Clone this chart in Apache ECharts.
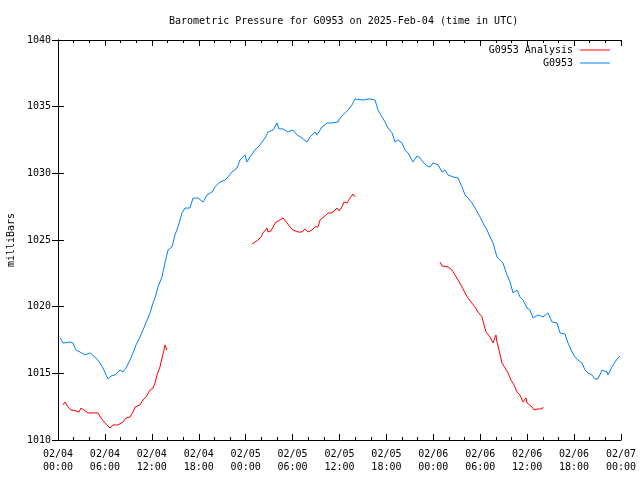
<!DOCTYPE html>
<html>
<head>
<meta charset="utf-8">
<script src="https://cdn.jsdelivr.net/npm/echarts@6/dist/echarts.min.js"></script>
<style>html,body{margin:0;padding:0;background:#fff}#c{width:640px;height:480px}</style>
</head>
<body>
<div id="c"></div>
<script>
// Hours since 2025-02-04 00:00 UTC
var xTickLabels = ['02/04\n00:00','02/04\n06:00','02/04\n12:00','02/04\n18:00','02/05\n00:00','02/05\n06:00','02/05\n12:00','02/05\n18:00','02/06\n00:00','02/06\n06:00','02/06\n12:00','02/06\n18:00','02/07\n00:00'];

var obsHours = [0.26,0.64,1.53,1.92,2.30,2.81,3.45,4.09,4.86,5.37,5.76,6.14,6.39,6.78,7.29,7.93,8.31,8.70,9.21,9.59,9.98,10.49,10.87,11.25,11.77,12.15,12.41,12.79,13.30,13.68,14.07,14.58,14.96,15.35,15.86,16.24,16.88,17.27,17.90,18.54,19.06,19.70,20.08,20.72,21.36,21.74,22.25,22.89,23.28,23.92,24.17,24.56,25.19,25.83,26.47,26.86,27.50,28.01,28.26,28.78,29.41,30.05,30.57,31.21,31.84,32.23,32.87,33.12,33.76,34.40,35.04,35.81,36.07,36.70,37.09,37.60,37.98,39.01,39.90,40.54,40.92,41.44,41.82,42.20,42.72,43.10,43.48,43.99,44.38,44.76,45.40,45.91,46.30,46.68,47.19,47.58,47.96,48.60,49.11,49.49,49.88,50.52,51.16,51.67,52.05,52.43,52.95,53.33,53.97,54.35,54.87,55.25,55.63,56.14,56.53,56.91,57.42,57.81,58.19,58.70,59.08,59.47,59.98,60.36,60.75,61.39,62.03,62.66,63.18,63.82,64.20,64.84,65.22,65.74,66.12,66.50,67.01,67.40,67.78,68.29,68.68,69.06,69.57,70.21,70.34,70.85,71.23,71.62,71.87];
var obsPressure = [1017.65,1017.28,1017.35,1017.28,1016.75,1016.6,1016.38,1016.53,1016.15,1015.78,1015.4,1014.88,1014.58,1014.8,1014.88,1015.25,1015.1,1015.4,1016.0,1016.53,1017.13,1017.73,1018.25,1018.78,1019.53,1020.28,1020.65,1021.48,1022.23,1023.28,1024.25,1024.48,1025.38,1025.98,1027.03,1027.4,1027.4,1028.15,1028.15,1027.85,1028.38,1028.6,1028.98,1029.35,1029.5,1029.73,1030.1,1030.4,1031.0,1031.38,1030.85,1031.23,1031.75,1032.13,1032.65,1033.1,1033.25,1033.78,1033.33,1033.33,1033.1,1033.25,1032.88,1032.65,1032.35,1032.73,1033.1,1032.88,1033.48,1033.78,1033.78,1033.85,1034.15,1034.53,1034.75,1035.13,1035.58,1035.5,1035.58,1035.5,1034.75,1034.23,1033.85,1033.4,1033.03,1032.35,1032.5,1032.28,1031.75,1031.53,1030.85,1031.3,1031.15,1030.85,1030.55,1030.48,1030.78,1030.63,1030.1,1030.25,1029.88,1029.73,1029.65,1028.98,1028.38,1028.15,1027.78,1027.4,1026.73,1026.28,1025.75,1025.23,1024.78,1023.73,1023.5,1023.28,1022.38,1021.85,1021.03,1021.25,1020.73,1020.5,1019.9,1019.75,1019.15,1019.38,1019.23,1019.53,1018.85,1018.78,1018.03,1017.95,1017.28,1016.6,1016.23,1016.0,1015.78,1015.25,1015.03,1014.88,1014.58,1014.58,1015.25,1015.1,1014.88,1015.48,1015.85,1016.15,1016.3];

var anaHours1 = [0.64,0.90,1.28,1.66,2.30,2.69,2.94,3.45,3.84,5.12,5.50,6.01,6.65,7.03,7.67,8.31,8.70,9.21,9.59,9.85,10.49,10.87,11.25,11.77,12.15,12.41,12.66,13.04,13.30,13.56,13.68,13.94];
var anaPressure1 = [1012.63,1012.85,1012.48,1012.25,1012.18,1012.1,1012.4,1012.18,1012.03,1012.03,1011.65,1011.28,1010.9,1011.13,1011.13,1011.35,1011.65,1011.73,1012.1,1012.48,1012.63,1013.0,1013.23,1013.75,1013.9,1014.28,1014.88,1015.48,1016.15,1016.75,1017.13,1016.75];

var anaHours2 = [24.81,25.19,25.58,25.96,26.22,26.73,26.86,27.24,27.50,27.88,28.39,28.78,29.03,29.29,29.67,30.05,30.69,31.21,31.59,31.84,31.97,32.48,32.87,33.25,33.51,33.76,34.15,34.53,34.91,35.17,35.68,35.94,36.32,36.58,36.96,37.34,37.73,37.98];
var anaPressure2 = [1024.7,1024.85,1025.0,1025.23,1025.53,1025.9,1025.6,1025.68,1025.98,1026.35,1026.5,1026.65,1026.58,1026.28,1025.98,1025.75,1025.6,1025.6,1025.83,1025.9,1025.6,1025.75,1025.98,1025.98,1026.5,1026.65,1026.8,1027.03,1027.03,1027.1,1027.4,1027.18,1027.48,1027.85,1027.78,1028.15,1028.45,1028.23];

var anaHours3 = [48.85,49.11,49.88,50.39,50.77,51.16,51.67,52.05,52.43,52.82,53.33,53.71,54.22,54.48,54.74,55.25,55.63,56.01,56.14,56.40,56.78,57.17,57.55,57.93,58.32,58.70,59.08,59.47,59.85,59.98,60.62,60.88,61.39,61.90,62.03];
var anaPressure3 = [1023.35,1023.05,1022.98,1022.75,1022.38,1022.0,1021.48,1021.03,1020.65,1020.35,1019.98,1019.6,1019.23,1018.63,1018.1,1017.73,1017.28,1017.88,1017.35,1016.75,1015.78,1015.4,1015.03,1014.5,1014.13,1013.6,1013.38,1012.85,1013.15,1012.78,1012.48,1012.25,1012.33,1012.33,1012.48];

function pairs(xs, ys) { return xs.map(function (x, i) { return [x, ys[i]]; }); }
var analysisData = pairs(anaHours1, anaPressure1).concat([[null, null]], pairs(anaHours2, anaPressure2), [[null, null]], pairs(anaHours3, anaPressure3));
var obsData = pairs(obsHours, obsPressure);

var FONT = 'DejaVu Sans Mono';
var RED = '#ff0000', BLUE = '#0080ff';
var axisLineStyle = { show: true, lineStyle: { color: '#000', width: 1 } };

var chart = echarts.init(document.getElementById('c'), null, { renderer: 'canvas' });
chart.setOption({
  animation: false,
  backgroundColor: '#fff',
  textStyle: { fontFamily: FONT },
  title: {
    text: 'Barometric Pressure for G0953 on 2025-Feb-04 (time in UTC)',
    left: 164, top: 11,
    textStyle: { fontFamily: FONT, fontSize: 10, fontWeight: 'normal', color: '#000' }
  },
  legend: [
    { data: ['G0953 Analysis'], right: 30, top: 45, padding: 0, align: 'right', itemWidth: 30, itemHeight: 1, itemGap: 0,
      icon: 'rect', textStyle: { fontFamily: FONT, fontSize: 10, color: '#000', padding: [0, 2, 0, 0] } },
    { data: ['G0953'], right: 30, top: 58, padding: 0, align: 'right', itemWidth: 30, itemHeight: 1, itemGap: 0,
      icon: 'rect', textStyle: { fontFamily: FONT, fontSize: 10, color: '#000', padding: [0, 2, 0, 0] } }
  ],
  grid: { left: 58, right: 19, top: 40, bottom: 40, containLabel: false, outerBoundsMode: 'none' },
  xAxis: [
    { type: 'value', min: 0, max: 72, interval: 6, position: 'bottom',
      axisLine: axisLineStyle,
      axisTick: { show: true, inside: true, length: 6, lineStyle: { color: '#000' } },
      minorTick: { show: true, splitNumber: 3, length: 3, lineStyle: { color: '#000' } },
      splitLine: { show: false },
      axisLabel: { fontFamily: FONT, fontSize: 10, color: '#000', margin: 8, lineHeight: 13,
        formatter: function (v) { return xTickLabels[Math.round(v / 6)]; } } },
    { type: 'value', min: 0, max: 72, interval: 6, position: 'top',
      axisLine: axisLineStyle,
      axisTick: { show: true, inside: true, length: 6, lineStyle: { color: '#000' } },
      minorTick: { show: true, splitNumber: 3, length: 3, lineStyle: { color: '#000' } },
      splitLine: { show: false }, axisLabel: { show: false } }
  ],
  yAxis: [
    { type: 'value', min: 1010, max: 1040, interval: 5, position: 'left',
      name: 'milliBars', nameLocation: 'middle', nameGap: 41, nameRotate: 90,
      nameTextStyle: { fontFamily: FONT, fontSize: 10, color: '#000' },
      axisLine: axisLineStyle,
      axisTick: { show: true, inside: true, length: 6, lineStyle: { color: '#000' } },
      splitLine: { show: false },
      axisLabel: { fontFamily: FONT, fontSize: 10, color: '#000', margin: 7,
        formatter: function (v) { return String(v); } } },
    { type: 'value', min: 1010, max: 1040, interval: 5, position: 'right',
      axisLine: axisLineStyle,
      axisTick: { show: true, inside: true, length: 6, lineStyle: { color: '#000' } },
      splitLine: { show: false }, axisLabel: { show: false } }
  ],
  series: [
    { name: 'G0953 Analysis', type: 'line', data: analysisData, showSymbol: false, symbol: 'none',
      connectNulls: false, color: RED, lineStyle: { color: RED, width: 1 }, xAxisIndex: 0, yAxisIndex: 0 },
    { name: 'G0953', type: 'line', data: obsData, showSymbol: false, symbol: 'none',
      color: BLUE, lineStyle: { color: BLUE, width: 1 }, xAxisIndex: 0, yAxisIndex: 0 }
  ]
});
</script>
</body>
</html>
